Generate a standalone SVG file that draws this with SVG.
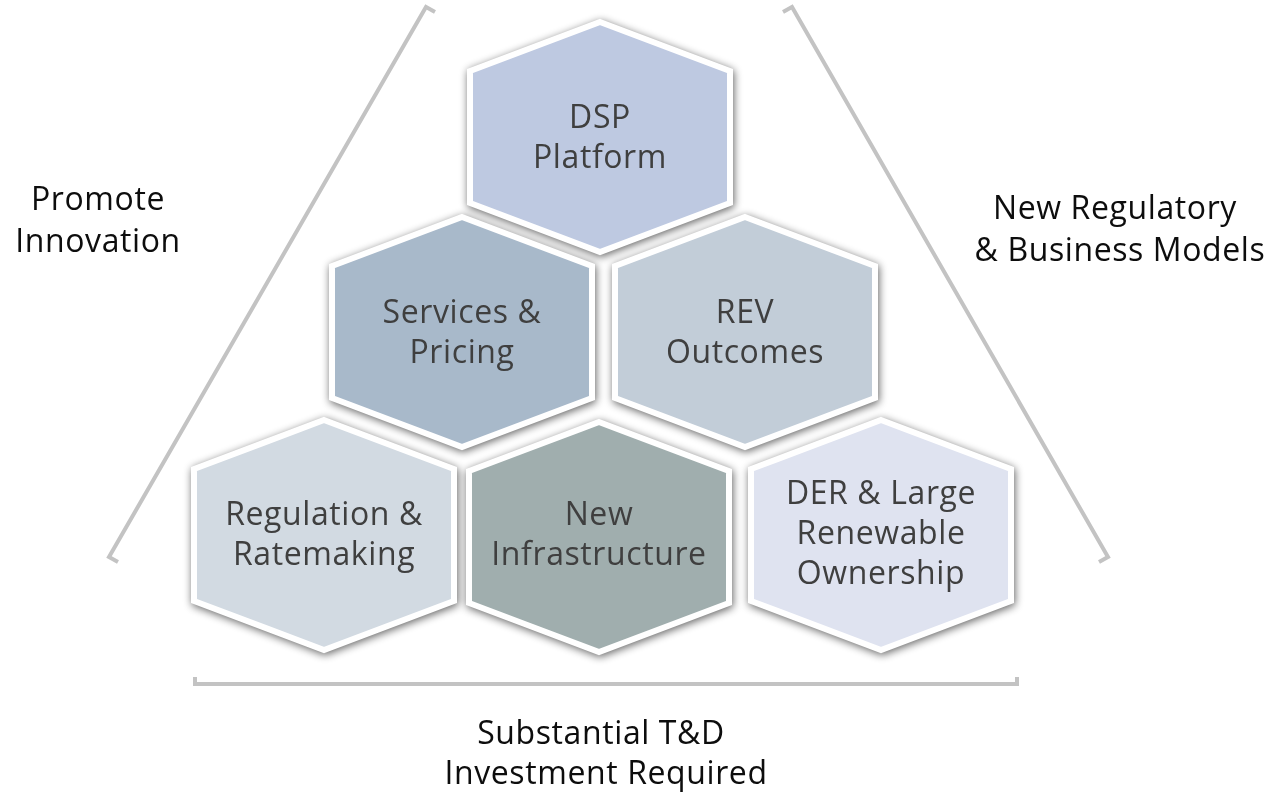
<svg xmlns="http://www.w3.org/2000/svg" xmlns:xlink="http://www.w3.org/1999/xlink" width="1285" height="799" viewBox="0 0 1285 799">
  <style>
    .hex { stroke: #FFFFFF; stroke-width: 6; stroke-linejoin: miter; }
    .lbl { font-family: "Open Sans", "Liberation Sans", sans-serif; font-size: 32px; fill: #3F3F3F; text-anchor: middle; letter-spacing: 0.6px; }
    .side { font-family: "Open Sans", "Liberation Sans", sans-serif; font-size: 32px; fill: #0D0D0D; text-anchor: middle; letter-spacing: 0.6px; }
    .brace { fill: none; stroke: #C3C3C3; stroke-width: 4; stroke-linejoin: miter; }
  </style>
  <defs>
    <!-- outer outline of one honeycomb cell, centred on 0,0 -->
    <polygon id="cell" points="0,-118 133,-68 133,68 0,118 -133,68 -133,-68"/>
    <filter id="soft" x="-20%" y="-20%" width="140%" height="140%">
      <feGaussianBlur in="SourceAlpha" stdDeviation="4.5"/>
      <feOffset dx="1" dy="2"/>
      <feComponentTransfer>
        <feFuncA type="linear" slope="0.62"/>
      </feComponentTransfer>
    </filter>
  </defs>

  <rect width="1285" height="799" fill="#FFFFFF"/>

  <!-- brackets framing the honeycomb -->
  <g id="connectors">
    <path class="brace" d="M435,12 L426,7 L109,557 L118,562"/>
    <path class="brace" d="M783,12 L792,7 L1108,557 L1099,562"/>
    <path class="brace" d="M195,677 V684 H1017 V677"/>
  </g>

  <!-- soft shadows under every cell -->
  <g id="shadows" filter="url(#soft)">
    <use xlink:href="#cell" transform="translate(600,137)"/>
    <use xlink:href="#cell" transform="translate(462,332)"/>
    <use xlink:href="#cell" transform="translate(745,332)"/>
    <use xlink:href="#cell" transform="translate(324,535)"/>
    <use xlink:href="#cell" transform="translate(599,537)"/>
    <use xlink:href="#cell" transform="translate(881,535)"/>
  </g>

  <g id="node-dsp" transform="translate(600,137)">
    <polygon class="hex" fill="#BEC9E1" points="0,-115 130,-66 130,66 0,115 -130,66 -130,-66"/>
    <text class="lbl"><tspan x="0" y="-9">DSP</tspan><tspan x="0" y="31">Platform</tspan></text>
  </g>

  <g id="node-services" transform="translate(462,332)">
    <polygon class="hex" fill="#A8B9CA" points="0,-115 130,-66 130,66 0,115 -130,66 -130,-66"/>
    <text class="lbl"><tspan x="0" y="-9">Services &amp;</tspan><tspan x="0" y="31">Pricing</tspan></text>
  </g>

  <g id="node-rev" transform="translate(745,332)">
    <polygon class="hex" fill="#C2CDD8" points="0,-115 130,-66 130,66 0,115 -130,66 -130,-66"/>
    <text class="lbl"><tspan x="0" y="-9">REV</tspan><tspan x="0" y="31">Outcomes</tspan></text>
  </g>

  <g id="node-regulation" transform="translate(324,535)">
    <polygon class="hex" fill="#D2DAE2" points="0,-115 130,-66 130,66 0,115 -130,66 -130,-66"/>
    <text class="lbl"><tspan x="0" y="-10">Regulation &amp;</tspan><tspan x="0" y="30">Ratemaking</tspan></text>
  </g>

  <g id="node-infrastructure" transform="translate(599,537)">
    <polygon class="hex" fill="#A0AEAE" points="0,-115 130,-66 130,66 0,115 -130,66 -130,-66"/>
    <text class="lbl"><tspan x="0" y="-12">New</tspan><tspan x="0" y="28">Infrastructure</tspan></text>
  </g>

  <g id="node-der" transform="translate(881,535)">
    <polygon class="hex" fill="#DFE3F0" points="0,-115 130,-66 130,66 0,115 -130,66 -130,-66"/>
    <text class="lbl"><tspan x="0" y="-31">DER &amp; Large</tspan><tspan x="0" y="9">Renewable</tspan><tspan x="0" y="49">Ownership</tspan></text>
  </g>

  <!-- side captions -->
  <g id="label-innovation">
    <text class="side"><tspan x="98" y="210">Promote</tspan><tspan x="98" y="252">Innovation</tspan></text>
  </g>
  <g id="label-models">
    <text class="side"><tspan x="1115" y="219">New Regulatory</tspan><tspan x="1120" y="261">&amp; Business Models</tspan></text>
  </g>
  <g id="label-investment">
    <text class="side"><tspan x="601" y="744">Substantial T&amp;D</tspan><tspan x="606" y="784">Investment Required</tspan></text>
  </g>
</svg>
